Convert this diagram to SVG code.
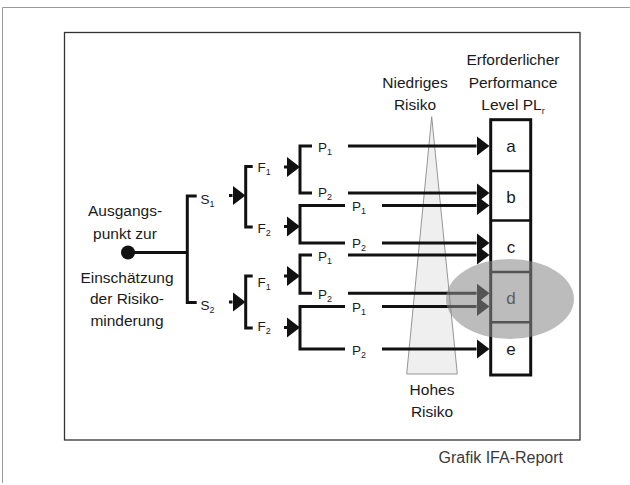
<svg xmlns="http://www.w3.org/2000/svg" width="630" height="485" viewBox="0 0 630 485">
<style>
text{font-family:"Liberation Sans",Arial,sans-serif;fill:#1a1a1a}
.big{font-size:15.5px;text-anchor:middle}
.lbl{font-size:13.5px}
.sub{font-size:9px}
.cell{font-size:17px;text-anchor:middle}
.ln{stroke:#111;stroke-width:3;fill:none}
.br{stroke:#111;stroke-width:3;fill:none;stroke-linejoin:miter}
</style>
<defs>
<marker id="ah" markerUnits="userSpaceOnUse" markerWidth="14" markerHeight="22" viewBox="0 -11 14 22" refX="0" refY="0" orient="auto">
<path d="M0,-10 L13,0 L0,10 Z" fill="#111"/>
</marker>
</defs>
<rect width="630" height="485" fill="#fff"/>
<path d="M2.5,483 V7.5 H630" fill="none" stroke="#9a9a9a" stroke-width="1"/>
<rect x="64.5" y="32.5" width="515.5" height="407.5" fill="#fff" stroke="#333" stroke-width="1.3"/>

<g id="risk-scale">
<polygon points="431.7,116.7 457.3,374 406.7,374" fill="#efefef" stroke="#8a8a8a" stroke-width="0.9"/>
<text class="big" x="415" y="88">Niedriges</text>
<text class="big" x="415" y="109.5">Risiko</text>
<text class="big" x="432" y="395">Hohes</text>
<text class="big" x="432" y="416.5">Risiko</text>
</g>

<g id="start">
<circle cx="128" cy="252.5" r="7" fill="#111"/>
<text class="big" x="125" y="216">Ausgangs-</text>
<text class="big" x="125" y="239">punkt zur</text>
<text class="big" x="127" y="283">Einschätzung</text>
<text class="big" x="127" y="304">der Risiko-</text>
<text class="big" x="127" y="325.5">minderung</text>
</g>

<g id="connectors">
<line class="ln" x1="128" y1="252.5" x2="188" y2="252.5" stroke-width="4"/>
<path class="br" d="M196.7,196 H187.3 V302.5 H196.7"/>
<line class="ln" x1="229" y1="195.5" x2="232.5" y2="195.5" marker-end="url(#ah)"/>
<line class="ln" x1="229" y1="302" x2="232.5" y2="302" marker-end="url(#ah)"/>
<path class="br" d="M252.7,166.5 H245.7 V227 H252.7"/>
<path class="br" d="M252.7,276 H245.7 V328 H252.7"/>
<line class="ln" x1="284" y1="167" x2="287" y2="167" marker-end="url(#ah)"/>
<line class="ln" x1="284" y1="226.5" x2="287" y2="226.5" marker-end="url(#ah)"/>
<line class="ln" x1="284" y1="276" x2="287" y2="276" marker-end="url(#ah)"/>
<line class="ln" x1="284" y1="327.5" x2="287" y2="327.5" marker-end="url(#ah)"/>
<path class="br" d="M312,146 H300 V193 H312"/>
<path class="br" d="M345,205.5 H300 V243 H345"/>
<path class="br" d="M312,255 H300 V293.3 H312"/>
<path class="br" d="M345,306.5 H300 V349 H345"/>
<line class="ln" x1="348" y1="146" x2="476.5" y2="146" marker-end="url(#ah)"/>
<line class="ln" x1="348" y1="193" x2="476.5" y2="193" marker-end="url(#ah)"/>
<line class="ln" x1="382" y1="205.5" x2="476.5" y2="205.5" marker-end="url(#ah)"/>
<line class="ln" x1="382" y1="243" x2="476.5" y2="243" marker-end="url(#ah)"/>
<line class="ln" x1="348" y1="255" x2="476.5" y2="255" marker-end="url(#ah)"/>
<line class="ln" x1="348" y1="293.3" x2="476.5" y2="293.3" marker-end="url(#ah)"/>
<line class="ln" x1="382" y1="306.5" x2="476.5" y2="306.5" marker-end="url(#ah)"/>
<line class="ln" x1="382" y1="349" x2="476.5" y2="349" marker-end="url(#ah)"/>
</g>

<g id="labels-S">
<text class="lbl" x="200.5" y="203.5">S<tspan class="sub" dy="3">1</tspan></text>
<text class="lbl" x="200.5" y="310">S<tspan class="sub" dy="3">2</tspan></text>
</g>
<g id="labels-F">
<text class="lbl" x="257.5" y="171.5">F<tspan class="sub" dy="3">1</tspan></text>
<text class="lbl" x="257.5" y="232.5">F<tspan class="sub" dy="3">2</tspan></text>
<text class="lbl" x="257.5" y="286.5">F<tspan class="sub" dy="3">1</tspan></text>
<text class="lbl" x="257.5" y="330.5">F<tspan class="sub" dy="3">2</tspan></text>
</g>
<g id="labels-P">
<text class="lbl" x="318" y="152">P<tspan class="sub" dy="3">1</tspan></text>
<text class="lbl" x="318" y="197">P<tspan class="sub" dy="3">2</tspan></text>
<text class="lbl" x="352" y="211">P<tspan class="sub" dy="3">1</tspan></text>
<text class="lbl" x="352" y="248">P<tspan class="sub" dy="3">2</tspan></text>
<text class="lbl" x="318" y="261">P<tspan class="sub" dy="3">1</tspan></text>
<text class="lbl" x="318" y="299">P<tspan class="sub" dy="3">2</tspan></text>
<text class="lbl" x="352" y="312">P<tspan class="sub" dy="3">1</tspan></text>
<text class="lbl" x="352" y="355">P<tspan class="sub" dy="3">2</tspan></text>
</g>

<g id="pl-box">
<text class="big" x="513" y="65" font-size="16">Erforderlicher</text>
<text class="big" x="513" y="88" font-size="16">Performance</text>
<text class="big" x="513" y="110" font-size="16">Level PL<tspan class="sub" font-size="10" dy="4">r</tspan></text>
<rect x="490.7" y="119.7" width="40" height="255.3" fill="#fff" stroke="#111" stroke-width="3"/>
<g stroke="#111" stroke-width="2.5">
<line x1="490.7" y1="171" x2="530.7" y2="171"/>
<line x1="490.7" y1="220.5" x2="530.7" y2="220.5"/>
<line x1="490.7" y1="272" x2="530.7" y2="272"/>
<line x1="490.7" y1="322.3" x2="530.7" y2="322.3"/>
</g>
<text class="cell" x="511" y="152">a</text>
<text class="cell" x="511" y="203">b</text>
<text class="cell" x="511" y="253">c</text>
<text class="cell" x="511" y="304">d</text>
<text class="cell" x="511" y="354.5">e</text>
</g>

<ellipse id="highlight" cx="510" cy="299" rx="64" ry="40" fill="#8a8a8a" fill-opacity="0.57"/>

<text x="563" y="463" font-size="16" text-anchor="end" style="fill:#3a3a3a">Grafik IFA-Report</text>
</svg>
